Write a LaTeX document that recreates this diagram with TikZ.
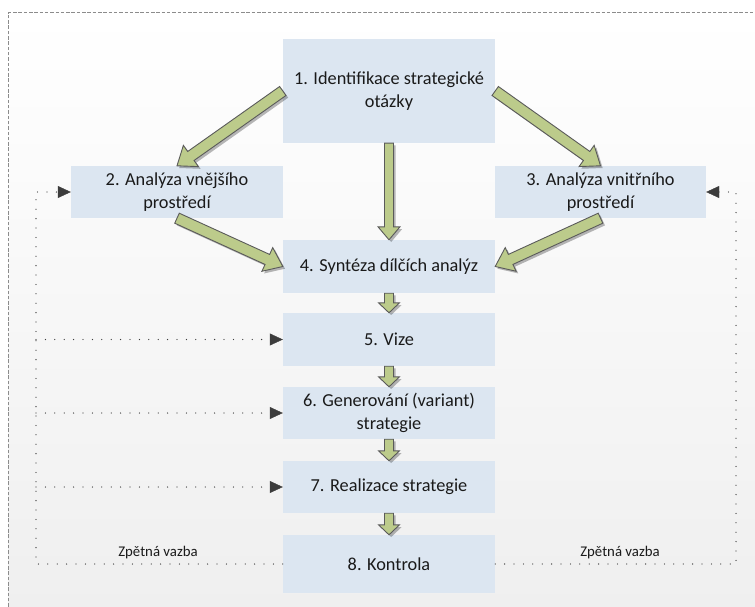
\documentclass[tikz,border=0pt]{standalone}
\usepackage{fontspec}
\setmainfont{Carlito}
\usetikzlibrary{calc,shadows,arrows.meta}

\definecolor{boxfill}{HTML}{DCE6F1}
\definecolor{arrowfill}{HTML}{BCCB8B}
\definecolor{arrowline}{HTML}{5A5A5A}
\definecolor{framegray}{HTML}{8C8C8C}
\definecolor{bgbottom}{HTML}{EFEFEF}
\definecolor{textcol}{HTML}{1A1A1A}
\definecolor{dotcol}{HTML}{3C3C3C}

% block arrow: #1 tail, #2 tip, #3 half shaft width, #4 half head width, #5 head length
\newcommand\blockarrow[5]{%
  \coordinate (ba-c) at ($(#2)!#5!(#1)$);
  \filldraw[bigarrow]
    ($(#1)!#3!90:(#2)$) -- ($(ba-c)!#3!90:(#2)$) -- ($(ba-c)!#4!90:(#2)$) --
    (#2) --
    ($(ba-c)!#4!-90:(#2)$) -- ($(ba-c)!#3!-90:(#2)$) -- ($(#1)!#3!-90:(#2)$) -- cycle;
}

\tikzset{
  stepbox/.style={fill=boxfill, draw=none, inner sep=0pt, align=center,
    minimum width=212pt, text=textcol,
    font=\fontsize{18.3}{23}\selectfont},
  bigarrow/.style={fill=arrowfill, draw=arrowline, line width=0.9pt, line join=miter,
    drop shadow={shadow xshift=2.2pt, shadow yshift=-2.2pt, opacity=0.28, fill=black}},
  fb/.style={dotcol, line width=1.3pt, line cap=round, dash pattern=on 0pt off 9.4pt},
  fbtip/.style={-{Triangle[length=13pt,width=12pt]}},
  fblabel/.style={text=textcol, font=\fontsize{14.8}{17}\selectfont, inner sep=0pt}
}

\begin{document}
\begin{tikzpicture}[x=1pt, y=-1pt]
  \useasboundingbox (0,0) rectangle (755,607);
  \clip (0,0) rectangle (755,607);

  % page background and dashed frame
  \fill[white] (0,0) rectangle (755,607);
  \shade[top color=white, bottom color=bgbottom] (8,13) rectangle (760,612);
  \draw[framegray, line width=1pt, dash pattern=on 3.5pt off 1.8pt] (8,612) -- (8,13) -- (760,13);

  % process steps
  \node[stepbox, minimum height=104pt] (n1) at (389,91) {1. Identifikace strategické\\otázky};
  \node[stepbox, minimum height=52pt]  (n2) at (177,192) {2. Analýza vnějšího\\prostředí};
  \node[stepbox, minimum height=52pt, minimum width=211pt] (n3) at (600.5,192) {3. Analýza vnitřního\\prostředí};
  \node[stepbox, minimum height=53pt]  (n4) at (389,266.5) {4. Syntéza dílčích analýz};
  \node[stepbox, minimum height=53pt]  (n5) at (389,339.5) {5. Vize};
  \node[stepbox, minimum height=52pt]  (n6) at (389,413) {6. Generování (variant)\\strategie};
  \node[stepbox, minimum height=52pt]  (n7) at (389,487) {7. Realizace strategie};
  \node[stepbox, minimum height=58pt]  (n8) at (389,564) {8. Kontrola};

  % block arrows between steps
  \blockarrow{n1.west}{n2.north}{5.5pt}{13pt}{17pt}
  \blockarrow{n1.east}{n3.north}{5.5pt}{13pt}{17pt}
  \blockarrow{n1.south}{n4.north}{4.5pt}{11pt}{13pt}
  \blockarrow{n2.south}{n4.west}{5.5pt}{13pt}{17pt}
  \blockarrow{n3.south}{n4.east}{5.5pt}{13pt}{17pt}
  \blockarrow{n4.south}{n5.north}{4.5pt}{10.5pt}{10pt}
  \blockarrow{n5.south}{n6.north}{4.5pt}{10.5pt}{10pt}
  \blockarrow{n6.south}{n7.north}{4.5pt}{10.5pt}{10pt}
  \blockarrow{n7.south}{n8.north}{4.5pt}{10.5pt}{10pt}

  % feedback loops
  \coordinate (fbL) at (36,0);
  \coordinate (fbR) at (736,0);
  \draw[fb] (n8.west) -- (n8.west -| fbL) -- (n2.west -| fbL) -- ($(n2.west)+(-12,0)$);
  \draw[fb] (n8.east) -- (n8.east -| fbR) -- (n3.east -| fbR) -- ($(n3.east)+(12,0)$);
  \draw[fb] (n5.west -| fbL) -- ($(n5.west)+(-12,0)$);
  \draw[fb] (n6.west -| fbL) -- ($(n6.west)+(-12,0)$);
  \draw[fb] (n7.west -| fbL) -- ($(n7.west)+(-12,0)$);
  \foreach \n/\s in {n2/west, n5/west, n6/west, n7/west} {
    \draw[dotcol, fbtip] ($(\n.\s)+(-12,0)$) -- (\n.\s);
  }
  \draw[dotcol, fbtip] ($(n3.east)+(12,0)$) -- (n3.east);

  \node[fblabel] (fbl1) at (158,553) {Zpětná vazba};
  \node[fblabel] (fbl2) at (620,553) {Zpětná vazba};
\end{tikzpicture}
\end{document}
